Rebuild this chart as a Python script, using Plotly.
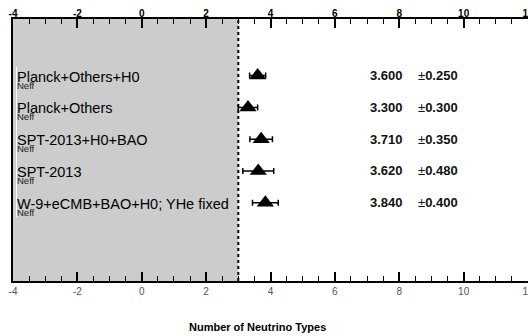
import plotly.graph_objects as go

labels = ["Planck+Others+H0", "Planck+Others", "SPT-2013+H0+BAO", "SPT-2013",
          "W-9+eCMB+BAO+H0; YHe fixed"]
values = [3.600, 3.300, 3.710, 3.620, 3.840]
errors = [0.250, 0.300, 0.350, 0.480, 0.400]
sub_label = "Neff"
x_title = "Number of Neutrino Types"
shade_max = 3.0
xmin, xmax = -4, 12
tickvals = [-4, -2, 0, 2, 4, 6, 8, 10, 12]
ticktext = ["-4", "-2", "0", "2", "4", "6", "8", "10", "12"]
minor_vals = [v / 2 for v in range(2 * xmin, 2 * xmax + 1) if (v / 2) not in tickvals]
rows = list(range(len(labels)))

fig = go.Figure()

fig.add_trace(go.Scatter(
    x=values, y=rows, mode="markers",
    marker=dict(symbol="triangle-up", size=15, color="black"),
    error_x=dict(type="data", array=errors, color="black", thickness=1.5, width=3),
    showlegend=False, hoverinfo="skip", xaxis="x", yaxis="y"))
fig.add_trace(go.Scatter(x=[xmin, xmax], y=[0, 0], mode="markers",
                         marker=dict(opacity=0), showlegend=False,
                         hoverinfo="skip", xaxis="x2", yaxis="y"))

shapes = [
    dict(type="rect", xref="x", yref="paper", x0=xmin, x1=shade_max, y0=0, y1=1,
         fillcolor="#cccccc", line=dict(width=0), layer="below"),
    dict(type="line", xref="x", yref="paper", x0=shade_max, x1=shade_max, y0=0, y1=1,
         line=dict(color="black", width=2, dash="dot"), layer="above"),
    dict(type="line", xref="x", yref="y", x0=-3.89, x1=-3.89, y0=-0.28, y1=4.45,
         line=dict(color="white", width=1), layer="above"),
]

font_fam = "Liberation Sans, Arial"
annotations = []
for i, (lab, v, e) in enumerate(zip(labels, values, errors)):
    annotations.append(dict(x=-3.93, y=i, xref="x", yref="y", text=lab,
                            showarrow=False, xanchor="left", yanchor="middle",
                            yshift=-1,
                            font=dict(family=font_fam, size=14.5, color="black")))
    annotations.append(dict(x=-3.93, y=i, xref="x", yref="y", text=sub_label,
                            showarrow=False, xanchor="left", yanchor="middle",
                            yshift=-9.5,
                            font=dict(family=font_fam, size=9.5, color="#222")))
    annotations.append(dict(x=7.02, y=i, xref="x", yref="y", text=f"<b>{v:.3f}</b>",
                            showarrow=False, xanchor="left", yanchor="middle",
                            font=dict(family=font_fam, size=13, color="#111")))
    annotations.append(dict(x=8.52, y=i, xref="x", yref="y", text=f"±<b>{e:.3f}</b>",
                            showarrow=False, xanchor="left", yanchor="middle",
                            font=dict(family=font_fam, size=13, color="#111")))

annotations.append(dict(x=0.474, y=-0.176, xref="paper", yref="paper", text=f"<b>{x_title}</b>",
                        showarrow=False, xanchor="center", yanchor="middle",
                        font=dict(family=font_fam, size=11, color="black")))

common_minor = dict(ticks="inside", tickmode="array", tickvals=minor_vals, ticklen=5,
                    tickwidth=1.2, tickcolor="black", showgrid=False)

fig.update_layout(
    width=528, height=336,
    margin=dict(l=13, r=0, t=19, b=55, autoexpand=False),
    plot_bgcolor="white", paper_bgcolor="white",
    shapes=shapes, annotations=annotations,
    xaxis=dict(range=[xmin, xmax], side="bottom", tickmode="array",
               tickvals=tickvals, ticktext=ticktext, automargin=False,
               ticks="inside", ticklen=9, tickwidth=1.5, tickcolor="black",
               showline=True, linecolor="black", linewidth=2, showgrid=False,
               zeroline=False, ticklabeloverflow="allow",
               tickfont=dict(family=font_fam, size=10, color="#555"),
               minor=common_minor),
    xaxis2=dict(range=[xmin, xmax], side="top", overlaying="x", tickmode="array",
                tickvals=tickvals, ticktext=ticktext, automargin=False,
                ticks="inside", ticklen=9, tickwidth=1.5, tickcolor="black",
                showline=True, linecolor="black", linewidth=1.5, showgrid=False,
                zeroline=False, ticklabeloverflow="allow", ticklabelstandoff=-4,
                tickfont=dict(family=font_fam, size=10, color="black", weight="bold"),
                minor=common_minor),
    yaxis=dict(range=[6.46, -1.78], showticklabels=False, ticks="", showgrid=False,
               zeroline=False, showline=True, linecolor="black", linewidth=2,
               automargin=False),
)

fig.write_html("out.html")
